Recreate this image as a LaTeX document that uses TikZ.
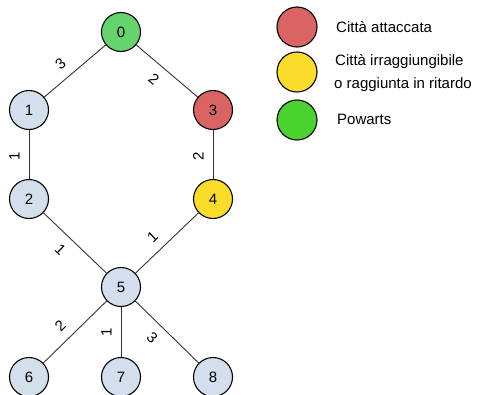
\documentclass[tikz,border=0pt]{standalone}
\usepackage{fontspec}
\setmainfont{Liberation Sans}
\definecolor{cityblue}{HTML}{D4DFEE}
\definecolor{homegreen}{HTML}{65D36E}
\definecolor{keygreen}{HTML}{4AD22E}
\definecolor{attackred}{HTML}{DA6464}
\definecolor{lateyellow}{HTML}{FCDC2A}
\definecolor{edgegray}{HTML}{333333}
\begin{document}
\begin{tikzpicture}[x=1pt,y=-1pt,
  city/.style={circle, draw=black, line width=1.1pt, minimum size=39pt, inner sep=0pt,
    fill=cityblue, font=\fontsize{15}{18}\selectfont},
  keydot/.style={circle, draw=black, line width=1.1pt, minimum size=40pt, inner sep=0pt},
  keytext/.style={anchor=west, font=\fontsize{15}{18}\selectfont, inner sep=0pt},
  road/.style={draw=edgegray, line width=0.9pt},
  cost/.style={sloped, font=\fontsize{15}{17}\selectfont, inner sep=2pt}]
\useasboundingbox (0,0) rectangle (477,394);

% cities
\node[city, fill=homegreen] (0) at (121,32) {0};
\node[city] (1) at (29,110) {1};
\node[city, fill=attackred] (3) at (213,110) {3};
\node[city] (2) at (29,199) {2};
\node[city, fill=lateyellow] (4) at (213,199) {4};
\node[city] (5) at (121,287) {5};
\node[city] (6) at (29,377) {6};
\node[city] (7) at (121,377) {7};
\node[city] (8) at (213,377) {8};

% roads with travel costs
\draw[road] (1) -- node[cost, above=7pt, pos=0.42] {3} (0);
\draw[road] (0) -- node[cost, below=7pt, pos=0.44] {2} (3);
\draw[road] (2) -- node[cost, above=7pt, pos=0.47] {1} (1);
\draw[road] (4) -- node[cost, above=7pt, pos=0.47] {2} (3);
\draw[road] (2) -- node[cost, below=7pt, pos=0.43] {1} (5);
\draw[road] (5) -- node[cost, above=7pt, pos=0.43] {1} (4);
\draw[road] (6) -- node[cost, above=7pt, pos=0.43] {2} (5);
\draw[road] (7) -- node[cost, above=7pt, pos=0.5] {1} (5);
\draw[road] (5) -- node[cost, below=7pt, pos=0.43] {3} (8);

% legend
\node[keydot, fill=attackred] (kred) at (297,27) {};
\node[keydot, fill=lateyellow] (kyellow) at (297,72) {};
\node[keydot, fill=keygreen] (kgreen) at (297,120) {};
\node[keytext] (tred) at (336,27) {Città attaccata};
\node[keytext] (tyellow1) at (335,62) {Città irraggiungibile};
\node[keytext] (tyellow2) at (334,85) {o raggiunta in ritardo};
\node[keytext] (tgreen) at (337,119) {Powarts};
\end{tikzpicture}
\end{document}
